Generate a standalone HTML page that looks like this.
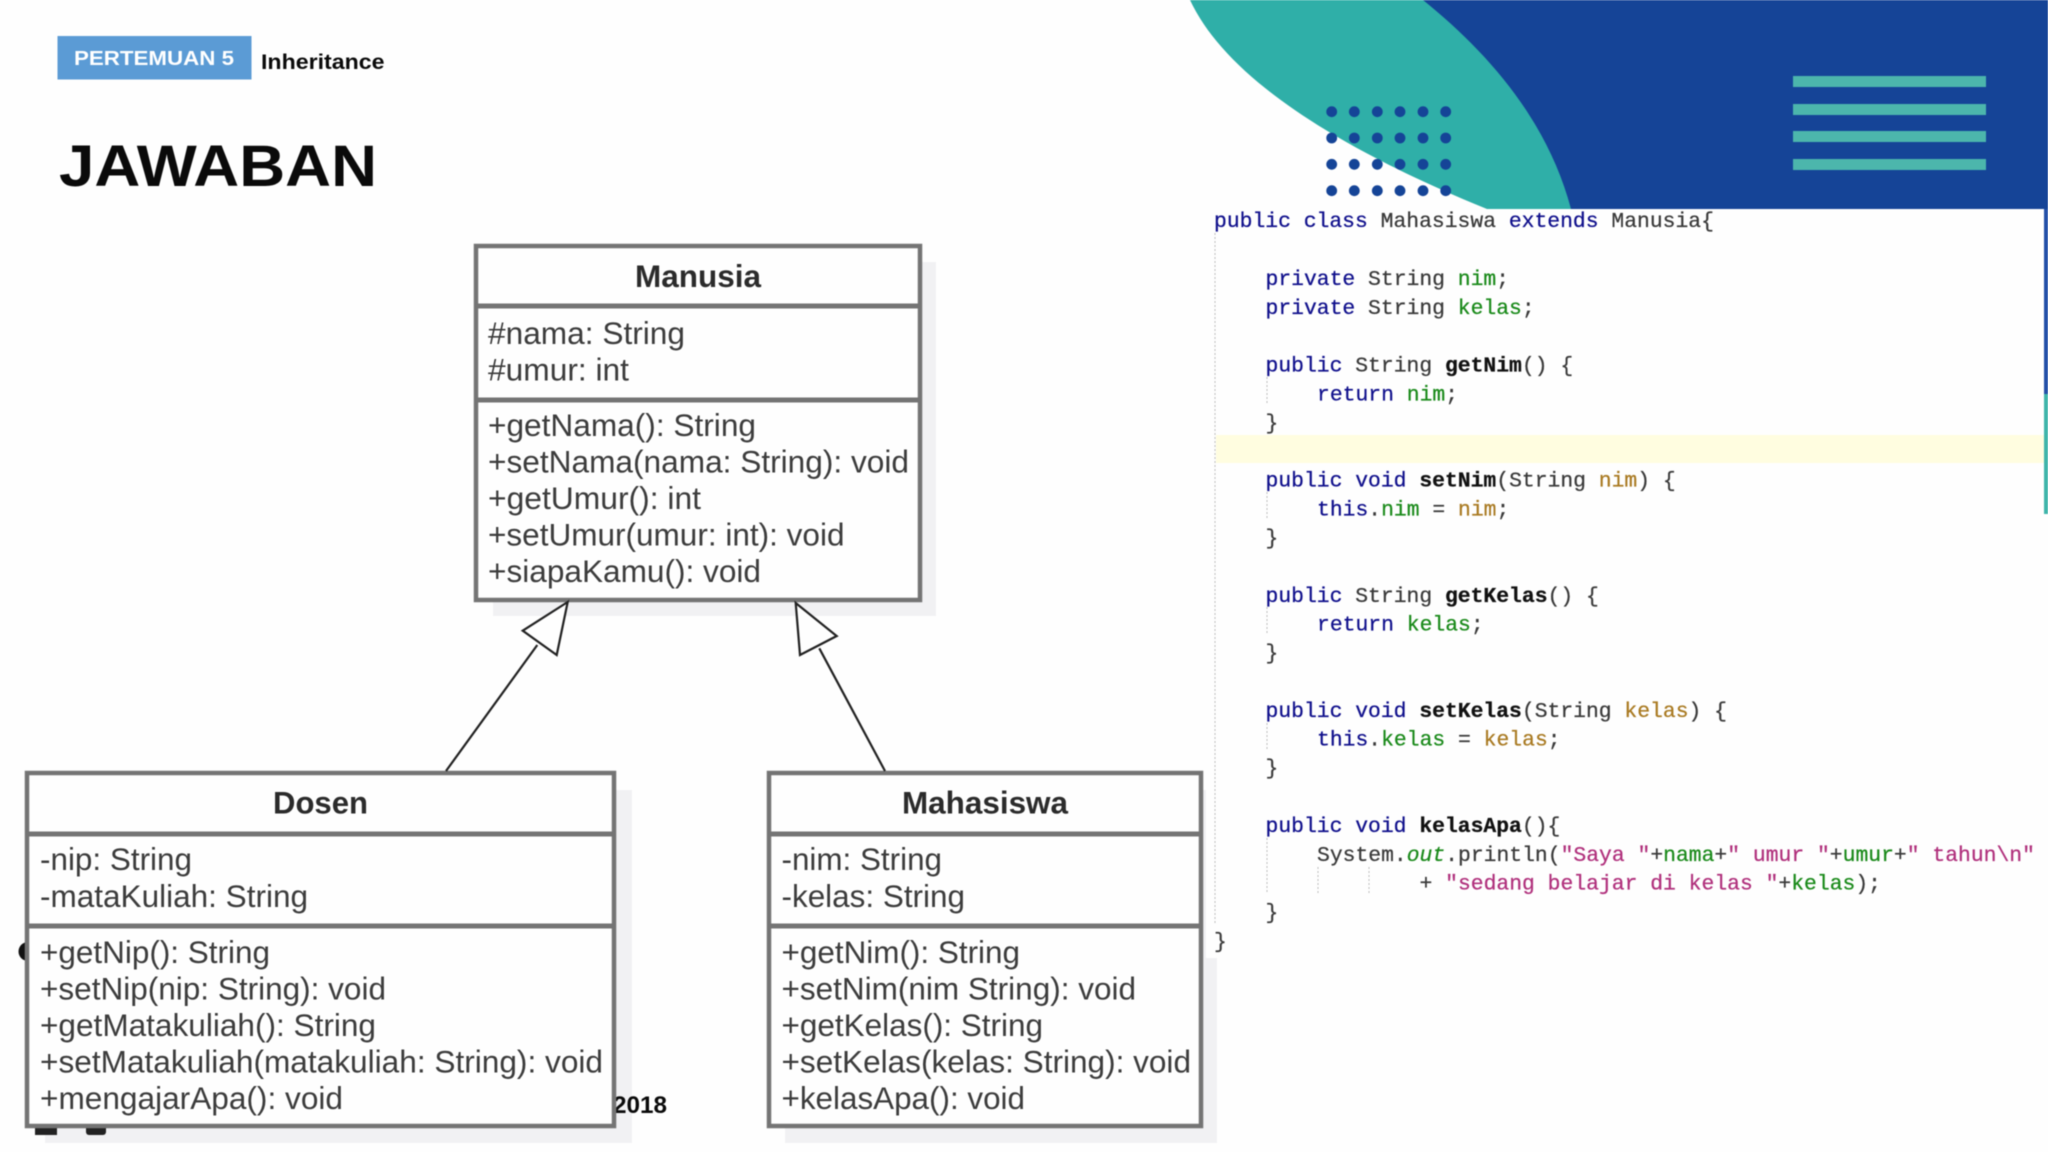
<!DOCTYPE html>
<html>
<head>
<meta charset="utf-8">
<style>
html,body{margin:0;padding:0;background:#fefefe;width:2048px;height:1152px;overflow:hidden}
svg{display:block;filter:blur(0.45px)}
text{font-family:"Liberation Sans",sans-serif}
.u{font-size:31.5px;fill:#3c3c3c}
.h{font-size:31.5px;font-weight:bold;fill:#2b2b2b}
.c{font-family:"Liberation Mono",monospace;font-size:21.36px;fill:#3a3a3a;white-space:pre;stroke:#3a3a3a;stroke-width:.25px}
.k{fill:#10108c;stroke:#10108c}
.f{fill:#1a8a1a;stroke:#1a8a1a}
.p{fill:#a97a22;stroke:#a97a22}
.s{fill:#b0307c;stroke:#b0307c}
.m{fill:#111;stroke:#111;font-weight:bold}
.b{fill:#fefefe;stroke:#747474;stroke-width:4.5}
.d{stroke:#747474;stroke-width:5}
.g{stroke:#bbb;stroke-width:1;stroke-dasharray:2 2}
.a{stroke:#222;stroke-width:2.2;fill:none}
.t{fill:#fefefe;stroke:#222;stroke-width:2.2}
</style>
</head>
<body>
<svg width="2048" height="1152" viewBox="0 0 2048 1152" xmlns="http://www.w3.org/2000/svg">
<rect width="2048" height="1152" fill="#fefefe"/>

<!-- header decoration -->
<path d="M1190 0 C1225 75 1330 145 1487 209 L2048 209 L2048 0 Z" fill="#2fafa8"/>
<path d="M1423 0 C1485 50 1547 118 1571 209 L2048 209 L2048 0 Z" fill="#154497"/>
<g fill="#154497">
<circle cx="1331.7" cy="111.7" r="5.4"/><circle cx="1354.3" cy="111.7" r="5.4"/><circle cx="1377.3" cy="111.7" r="5.4"/><circle cx="1400" cy="111.7" r="5.4"/><circle cx="1423" cy="111.7" r="5.4"/><circle cx="1445.7" cy="111.7" r="5.4"/>
<circle cx="1331.7" cy="138" r="5.4"/><circle cx="1354.3" cy="138" r="5.4"/><circle cx="1377.3" cy="138" r="5.4"/><circle cx="1400" cy="138" r="5.4"/><circle cx="1423" cy="138" r="5.4"/><circle cx="1445.7" cy="138" r="5.4"/>
<circle cx="1331.7" cy="164.3" r="5.4"/><circle cx="1354.3" cy="164.3" r="5.4"/><circle cx="1377.3" cy="164.3" r="5.4"/><circle cx="1400" cy="164.3" r="5.4"/><circle cx="1423" cy="164.3" r="5.4"/><circle cx="1445.7" cy="164.3" r="5.4"/>
<circle cx="1331.7" cy="190.7" r="5.4"/><circle cx="1354.3" cy="190.7" r="5.4"/><circle cx="1377.3" cy="190.7" r="5.4"/><circle cx="1400" cy="190.7" r="5.4"/><circle cx="1423" cy="190.7" r="5.4"/><circle cx="1445.7" cy="190.7" r="5.4"/>
</g>
<g fill="#4cb6ac">
<rect x="1793" y="76" width="193" height="11"/>
<rect x="1793" y="104" width="193" height="11"/>
<rect x="1793" y="131" width="193" height="11"/>
<rect x="1793" y="159" width="193" height="11"/>
</g>

<!-- slide title -->
<rect x="57.5" y="36" width="194" height="43.5" fill="#5b9bd5"/>
<text x="74" y="65" font-size="20.5" font-weight="bold" fill="#fff" textLength="160" lengthAdjust="spacingAndGlyphs">PERTEMUAN 5</text>
<text x="261" y="69" font-size="21" font-weight="bold" fill="#0a0a0a" textLength="123.5" lengthAdjust="spacingAndGlyphs">Inheritance</text>
<text x="59" y="186" font-size="58" font-weight="bold" fill="#0a0a0a" textLength="318" lengthAdjust="spacingAndGlyphs">JAWABAN</text>

<!-- shadows -->
<g fill="#f1f1f3">
<rect x="493" y="262" width="443" height="354"/>
<rect x="45" y="790" width="587" height="353"/>
<rect x="785" y="790" width="432" height="353"/>
</g>

<!-- peeking background bits -->
<text x="613" y="1113" font-size="24" font-weight="bold" fill="#0a0a0a" textLength="54" lengthAdjust="spacingAndGlyphs">2018</text>
<circle cx="28" cy="951.5" r="9.5" fill="#111"/>
<rect x="35" y="1124" width="22" height="11" fill="#222"/>
<rect x="86" y="1124" width="20" height="11" rx="3" fill="#222"/>

<!-- code panel -->
<rect x="1206" y="209" width="838" height="749" fill="#fefefe"/>
<rect x="2044" y="209" width="4" height="185" fill="#2350a8"/>
<rect x="2044" y="394" width="4" height="120" fill="#3fb5aa"/>
<rect x="1216" y="435" width="828" height="28" fill="#fffde0"/>
<line class="g" x1="1215" y1="233" x2="1215" y2="923"/>
<line class="g" x1="1267" y1="377" x2="1267" y2="405"/>
<line class="g" x1="1267" y1="492" x2="1267" y2="520"/>
<line class="g" x1="1267" y1="607" x2="1267" y2="635"/>
<line class="g" x1="1267" y1="723" x2="1267" y2="751"/>
<line class="g" x1="1267" y1="838" x2="1267" y2="894"/>
<line class="g" x1="1318" y1="867" x2="1318" y2="894"/>
<line class="g" x1="1369" y1="867" x2="1369" y2="894"/>

<g transform="translate(0,0.6)">
<text class="c" x="1214" y="226.5"><tspan class="k">public class</tspan> Mahasiswa <tspan class="k">extends</tspan> Manusia{</text>
<text class="c" x="1265.5" y="284.5"><tspan class="k">private</tspan> String <tspan class="f">nim</tspan>;</text>
<text class="c" x="1265.5" y="313.5"><tspan class="k">private</tspan> String <tspan class="f">kelas</tspan>;</text>
<text class="c" x="1265.5" y="371"><tspan class="k">public</tspan> String <tspan class="m">getNim</tspan>() {</text>
<text class="c" x="1317" y="400"><tspan class="k">return</tspan> <tspan class="f">nim</tspan>;</text>
<text class="c" x="1265.5" y="428.5">}</text>
<text class="c" x="1265.5" y="486"><tspan class="k">public void</tspan> <tspan class="m">setNim</tspan>(String <tspan class="p">nim</tspan>) {</text>
<text class="c" x="1317" y="515"><tspan class="k">this</tspan>.<tspan class="f">nim</tspan> = <tspan class="p">nim</tspan>;</text>
<text class="c" x="1265.5" y="543.5">}</text>
<text class="c" x="1265.5" y="601.5"><tspan class="k">public</tspan> String <tspan class="m">getKelas</tspan>() {</text>
<text class="c" x="1317" y="630"><tspan class="k">return</tspan> <tspan class="f">kelas</tspan>;</text>
<text class="c" x="1265.5" y="658.5">}</text>
<text class="c" x="1265.5" y="716.5"><tspan class="k">public void</tspan> <tspan class="m">setKelas</tspan>(String <tspan class="p">kelas</tspan>) {</text>
<text class="c" x="1317" y="745"><tspan class="k">this</tspan>.<tspan class="f">kelas</tspan> = <tspan class="p">kelas</tspan>;</text>
<text class="c" x="1265.5" y="773.5">}</text>
<text class="c" x="1265.5" y="831.5"><tspan class="k">public void</tspan> <tspan class="m">kelasApa</tspan>(){</text>
<text class="c" x="1317" y="860.5">System.<tspan class="f" font-style="italic">out</tspan>.println(<tspan class="s">"Saya "</tspan>+<tspan class="f">nama</tspan>+<tspan class="s">" umur "</tspan>+<tspan class="f">umur</tspan>+<tspan class="s">" tahun\n"</tspan></text>
<text class="c" x="1419.5" y="889">+ <tspan class="s">"sedang belajar di kelas "</tspan>+<tspan class="f">kelas</tspan>);</text>
<text class="c" x="1265.5" y="918">}</text>
<text class="c" x="1214" y="947">}</text>
</g>

<!-- Manusia -->
<rect class="b" x="476" y="246" width="444" height="354"/>
<line class="d" x1="476" y1="306" x2="920" y2="306"/>
<line class="d" x1="476" y1="400" x2="920" y2="400"/>
<text class="h" x="635" y="287" textLength="126" lengthAdjust="spacingAndGlyphs">Manusia</text>
<text class="u" x="488" y="344" textLength="197" lengthAdjust="spacingAndGlyphs">#nama: String</text>
<text class="u" x="488" y="380.5" textLength="141" lengthAdjust="spacingAndGlyphs">#umur: int</text>
<text class="u" x="488" y="436.2" textLength="268" lengthAdjust="spacingAndGlyphs">+getNama(): String</text>
<text class="u" x="488" y="472.7" textLength="421" lengthAdjust="spacingAndGlyphs">+setNama(nama: String): void</text>
<text class="u" x="488" y="509.2" textLength="213" lengthAdjust="spacingAndGlyphs">+getUmur(): int</text>
<text class="u" x="488" y="545.7" textLength="356.5" lengthAdjust="spacingAndGlyphs">+setUmur(umur: int): void</text>
<text class="u" x="488" y="582.2" textLength="273" lengthAdjust="spacingAndGlyphs">+siapaKamu(): void</text>

<!-- Dosen -->
<rect class="b" x="27" y="773" width="587" height="353"/>
<line class="d" x1="27" y1="834" x2="614" y2="834"/>
<line class="d" x1="27" y1="926" x2="614" y2="926"/>
<text class="h" x="273" y="813.5" textLength="95" lengthAdjust="spacingAndGlyphs">Dosen</text>
<text class="u" x="40" y="870" textLength="152" lengthAdjust="spacingAndGlyphs">-nip: String</text>
<text class="u" x="40" y="907" textLength="268" lengthAdjust="spacingAndGlyphs">-mataKuliah: String</text>
<text class="u" x="40" y="962.8" textLength="230" lengthAdjust="spacingAndGlyphs">+getNip(): String</text>
<text class="u" x="40" y="999.3" textLength="346" lengthAdjust="spacingAndGlyphs">+setNip(nip: String): void</text>
<text class="u" x="40" y="1036" textLength="336" lengthAdjust="spacingAndGlyphs">+getMatakuliah(): String</text>
<text class="u" x="40" y="1072.7" textLength="563" lengthAdjust="spacingAndGlyphs">+setMatakuliah(matakuliah: String): void</text>
<text class="u" x="40" y="1109" textLength="303" lengthAdjust="spacingAndGlyphs">+mengajarApa(): void</text>

<!-- Mahasiswa -->
<rect class="b" x="769" y="773" width="432" height="353"/>
<line class="d" x1="769" y1="834" x2="1201" y2="834"/>
<line class="d" x1="769" y1="926" x2="1201" y2="926"/>
<text class="h" x="902" y="813.5" textLength="166" lengthAdjust="spacingAndGlyphs">Mahasiswa</text>
<text class="u" x="781.5" y="870" textLength="160.5" lengthAdjust="spacingAndGlyphs">-nim: String</text>
<text class="u" x="781.5" y="907" textLength="183.5" lengthAdjust="spacingAndGlyphs">-kelas: String</text>
<text class="u" x="781.5" y="962.8" textLength="238.5" lengthAdjust="spacingAndGlyphs">+getNim(): String</text>
<text class="u" x="781.5" y="999.3" textLength="354.5" lengthAdjust="spacingAndGlyphs">+setNim(nim String): void</text>
<text class="u" x="781.5" y="1036" textLength="261.5" lengthAdjust="spacingAndGlyphs">+getKelas(): String</text>
<text class="u" x="781.5" y="1072.7" textLength="409.5" lengthAdjust="spacingAndGlyphs">+setKelas(kelas: String): void</text>
<text class="u" x="781.5" y="1109" textLength="243.5" lengthAdjust="spacingAndGlyphs">+kelasApa(): void</text>

<!-- generalization arrows -->
<line class="a" x1="446" y1="771" x2="537.3" y2="645"/>
<polygon class="t" points="567.7,602 522.7,630.7 556.7,655"/>
<line class="a" x1="885" y1="771" x2="819.3" y2="648.3"/>
<polygon class="t" points="795.7,603 836.7,636 800,655"/>
</svg>
</body>
</html>
